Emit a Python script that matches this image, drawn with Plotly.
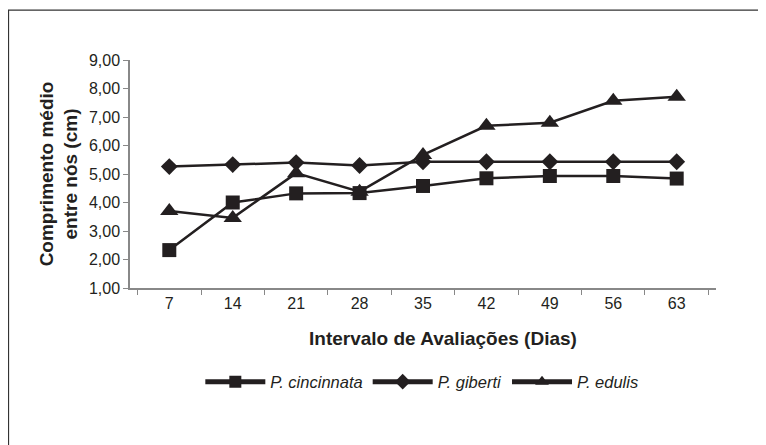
import plotly.graph_objects as go

dias = ["7", "14", "21", "28", "35", "42", "49", "56", "63"]

p_cincinnata = [2.33, 4.00, 4.32, 4.33, 4.58, 4.85, 4.93, 4.93, 4.84]
p_giberti = [5.26, 5.33, 5.40, 5.30, 5.43, 5.43, 5.43, 5.43, 5.43]
p_edulis = [3.70, 3.46, 5.03, 4.38, 5.67, 6.69, 6.80, 7.57, 7.71]

series = [
    ("P. cincinnata", p_cincinnata, "square", 14),
    ("P. giberti", p_giberti, "diamond", 13),
    ("P. edulis", p_edulis, "triangle-up", 16),
]

fig = go.Figure()
for nome, vals, simbolo, tam in series:
    fig.add_trace(go.Scatter(
        x=dias, y=vals, mode="lines+markers",
        name=f"<i>{nome}</i>",
        line=dict(color="#231f20", width=2.5),
        marker=dict(symbol=simbolo, size=tam, color="#231f20"),
    ))

# moldura externa (so topo e esquerda aparecem)
fig.add_shape(type="rect", xref="paper", yref="paper",
              x0=-0.2073, x1=1.3, y0=-0.9, y1=1.219,
              line=dict(color="#333", width=1.2), layer="below")

fig.add_annotation(text="<b>Intervalo de Avaliações (Dias)</b>",
                   xref="paper", yref="paper", x=0.534, y=-0.276,
                   showarrow=False, font=dict(size=19))

fig.update_layout(
    width=766, height=445,
    margin=dict(l=122, r=58, t=52, b=165),
    paper_bgcolor="white", plot_bgcolor="white",
    separators=",.",
    font=dict(family="Liberation Sans, Arial, sans-serif", color="#231f20", size=16),
    showlegend=True,
    legend=dict(orientation="h", x=0.498, xanchor="center", y=-0.412, yanchor="middle",
                font=dict(size=16.5), itemwidth=60, itemsizing="constant",
                traceorder="normal"),
    xaxis=dict(
        type="category", showgrid=False, zeroline=False,
        showline=True, linecolor="#888", linewidth=1.5,
        ticks="outside", tickson="boundaries", ticklen=5, tickcolor="#888",
        tickfont=dict(size=16),
    ),
    yaxis=dict(
        range=[1, 9], dtick=1, tickformat=".2f", showgrid=False, zeroline=False,
        showline=True, linecolor="#888", linewidth=1.5,
        ticks="outside", ticklen=5, tickcolor="#888",
        tickfont=dict(size=16),
        title=dict(text="<b>Comprimento médio<br>entre nós (cm)</b>", font=dict(size=19), standoff=6),
    ),
)

fig.write_html("out.html")
